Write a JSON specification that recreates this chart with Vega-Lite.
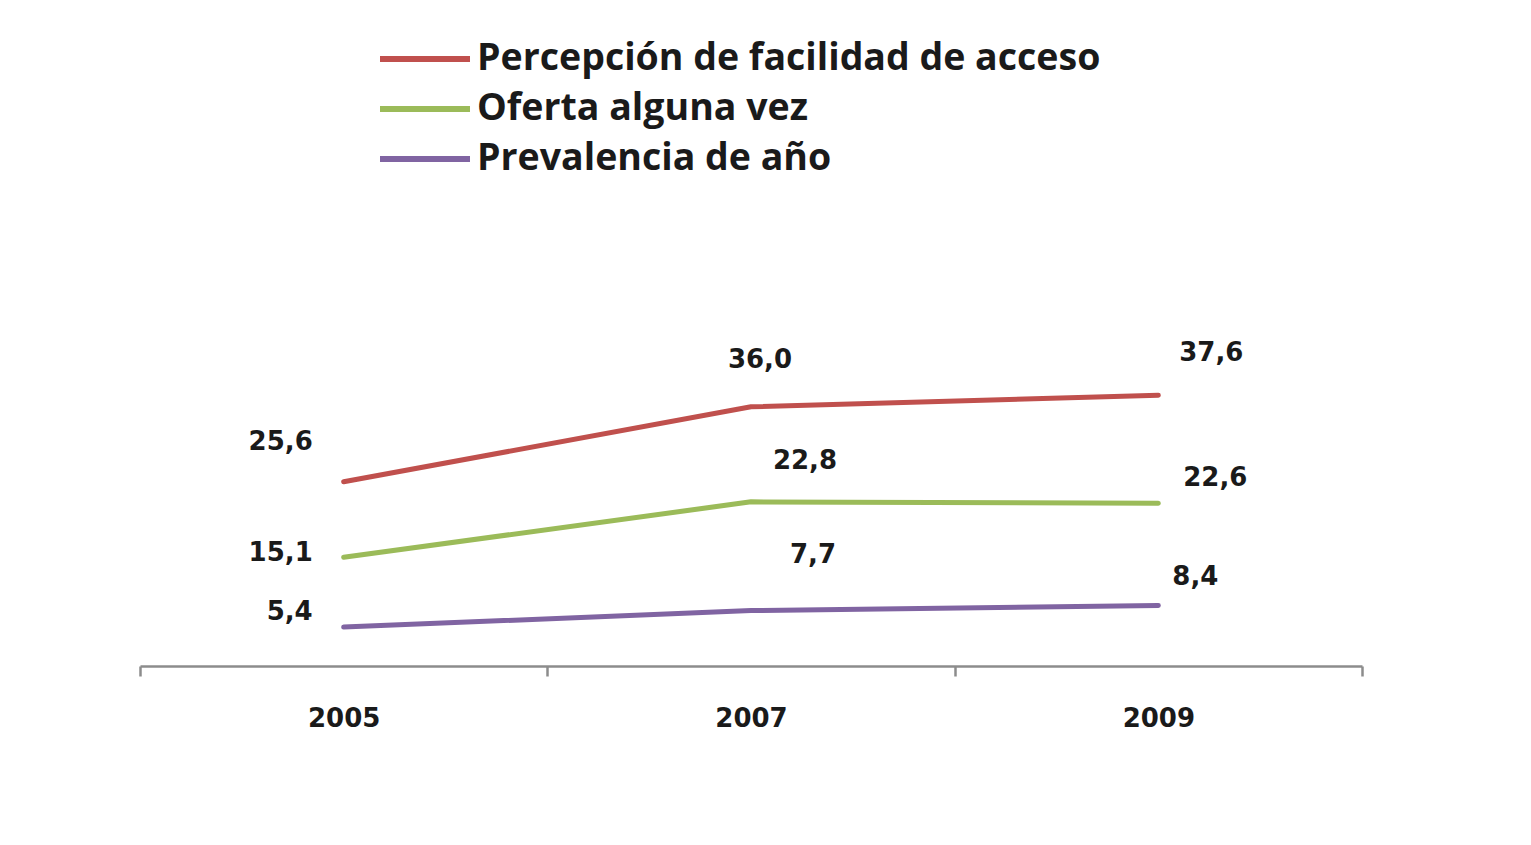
{
  "$schema": "https://vega.github.io/schema/vega-lite/v6.json",
  "width": 1222,
  "height": 504,
  "autosize": {"type": "none"},
  "padding": {"left": 140, "top": 162, "right": 169, "bottom": 179},
  "background": "white",
  "config": {
    "view": {"stroke": null},
    "locale": {"number": {"decimal": ",", "thousands": ".", "grouping": [3], "currency": ["", " €"]}}
  },
  "data": {
    "values": [
      {"year": "2005", "serie": "Percepción de facilidad de acceso", "valor": 25.6},
      {"year": "2007", "serie": "Percepción de facilidad de acceso", "valor": 36.0},
      {"year": "2009", "serie": "Percepción de facilidad de acceso", "valor": 37.6},
      {"year": "2005", "serie": "Oferta alguna vez", "valor": 15.1},
      {"year": "2007", "serie": "Oferta alguna vez", "valor": 22.8},
      {"year": "2009", "serie": "Oferta alguna vez", "valor": 22.6},
      {"year": "2005", "serie": "Prevalencia de año", "valor": 5.4},
      {"year": "2007", "serie": "Prevalencia de año", "valor": 7.7},
      {"year": "2009", "serie": "Prevalencia de año", "valor": 8.4}
    ]
  },
  "encoding": {
    "x": {
      "field": "year", "type": "ordinal",
      "scale": {"type": "band", "paddingInner": 0, "paddingOuter": 0},
      "axis": {
        "title": null, "labelAngle": 0, "tickBand": "extent",
        "domainColor": "#8c8c8c", "domainWidth": 2.5,
        "tickColor": "#8c8c8c", "tickWidth": 2.5, "tickSize": 10,
        "labelFont": "DejaVu Sans", "labelFontWeight": "bold", "labelFontSize": 26,
        "labelColor": "#1a1a1a", "labelPadding": 29, "grid": false
      }
    },
    "y": {
      "field": "valor", "type": "quantitative",
      "scale": {"domain": [0, 70], "nice": false},
      "axis": null
    }
  },
  "layer": [
    {
      "mark": {"type": "line", "strokeWidth": 5, "strokeCap": "round", "strokeJoin": "round"},
      "encoding": {
        "color": {
          "field": "serie", "type": "nominal",
          "scale": {
            "domain": ["Percepción de facilidad de acceso", "Oferta alguna vez", "Prevalencia de año"],
            "range": ["#c0504d", "#9bbb59", "#8064a2"]
          },
          "legend": {
            "title": null, "orient": "none", "legendX": 237, "legendY": -128,
            "symbolType": "stroke", "symbolSize": 8100, "symbolStrokeWidth": 6,
            "labelFont": "Open Sans", "labelFontSize": 37.5, "labelFontWeight": "bold",
            "labelColor": "#1a1a1a", "labelOffset": 4, "labelLimit": 1000,
            "clipHeight": 50, "rowPadding": 0, "padding": 0
          }
        }
      }
    },
    {"transform": [{"filter": "datum.valor == 25.6"}], "mark": {"type": "text", "dx": -63, "dy": -40, "font": "DejaVu Sans", "fontWeight": "bold", "fontSize": 26, "color": "#1a1a1a"}, "encoding": {"text": {"field": "valor", "format": ".1f"}}},
    {"transform": [{"filter": "datum.valor == 15.1"}], "mark": {"type": "text", "dx": -63, "dy": -4, "font": "DejaVu Sans", "fontWeight": "bold", "fontSize": 26, "color": "#1a1a1a"}, "encoding": {"text": {"field": "valor", "format": ".1f"}}},
    {"transform": [{"filter": "datum.valor == 5.4"}], "mark": {"type": "text", "dx": -54, "dy": -15, "font": "DejaVu Sans", "fontWeight": "bold", "fontSize": 26, "color": "#1a1a1a"}, "encoding": {"text": {"field": "valor", "format": ".1f"}}},
    {"transform": [{"filter": "datum.valor == 36"}], "mark": {"type": "text", "dx": 9, "dy": -47, "font": "DejaVu Sans", "fontWeight": "bold", "fontSize": 26, "color": "#1a1a1a"}, "encoding": {"text": {"field": "valor", "format": ".1f"}}},
    {"transform": [{"filter": "datum.valor == 22.8"}], "mark": {"type": "text", "dx": 54, "dy": -41, "font": "DejaVu Sans", "fontWeight": "bold", "fontSize": 26, "color": "#1a1a1a"}, "encoding": {"text": {"field": "valor", "format": ".1f"}}},
    {"transform": [{"filter": "datum.valor == 7.7"}], "mark": {"type": "text", "dx": 62, "dy": -56, "font": "DejaVu Sans", "fontWeight": "bold", "fontSize": 26, "color": "#1a1a1a"}, "encoding": {"text": {"field": "valor", "format": ".1f"}}},
    {"transform": [{"filter": "datum.valor == 37.6"}], "mark": {"type": "text", "dx": 53, "dy": -42, "font": "DejaVu Sans", "fontWeight": "bold", "fontSize": 26, "color": "#1a1a1a"}, "encoding": {"text": {"field": "valor", "format": ".1f"}}},
    {"transform": [{"filter": "datum.valor == 22.6"}], "mark": {"type": "text", "dx": 57, "dy": -25, "font": "DejaVu Sans", "fontWeight": "bold", "fontSize": 26, "color": "#1a1a1a"}, "encoding": {"text": {"field": "valor", "format": ".1f"}}},
    {"transform": [{"filter": "datum.valor == 8.4"}], "mark": {"type": "text", "dx": 37, "dy": -29, "font": "DejaVu Sans", "fontWeight": "bold", "fontSize": 26, "color": "#1a1a1a"}, "encoding": {"text": {"field": "valor", "format": ".1f"}}}
  ]
}
